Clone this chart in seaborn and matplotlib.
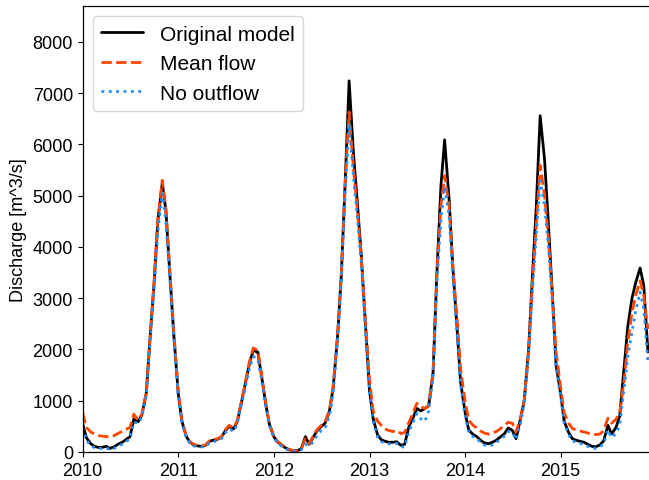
import matplotlib
matplotlib.use('Agg')
import matplotlib.pyplot as plt
import matplotlib.dates as mdates
import numpy as np
import pandas as pd
import seaborn as sns

# semi-monthly samples (1st and 15th), 2010-01-01 .. 2015-12-01
dates = pd.date_range('2010-01-01', '2015-12-01', freq='SMS')

original_model = [
    550, 280, 160, 110, 90, 90, 110, 70, 100, 150, 190, 240, 300, 640, 590, 720, 1150, 2200, 3300, 4500, 5250, 4700, 3400, 2300,
    1150, 600, 300, 190, 140, 120, 110, 130, 210, 230, 250, 290, 420, 500, 450, 600, 1000, 1350, 1750, 1980, 1950, 1500, 950, 550,
    300, 200, 130, 80, 40, 30, 30, 60, 300, 150, 300, 420, 500, 560, 800, 1250, 2260, 3430, 5390, 7240, 5800, 4900, 3800, 2600,
    1200, 650, 330, 240, 210, 190, 190, 200, 130, 150, 500, 650, 850, 800, 850, 900, 1560, 3440, 5200, 6090, 4940, 3640, 2460, 1370,
    780, 430, 340, 300, 230, 180, 160, 190, 230, 290, 360, 470, 420, 260, 650, 1000, 2000, 3380, 4870, 6560, 5700, 4500, 3050, 1700,
    1150, 600, 380, 260, 230, 210, 190, 150, 110, 100, 140, 220, 520, 350, 480, 700, 1650, 2450, 3000, 3300, 3590, 3250, 1950,
]
mean_flow = [
    760, 480, 390, 350, 320, 310, 300, 300, 320, 360, 400, 440, 480, 740, 620, 740, 1150, 2200, 3350, 4550, 5300, 4750, 3450, 2350,
    1200, 620, 310, 200, 150, 130, 120, 140, 220, 240, 260, 300, 440, 520, 470, 620, 1020, 1370, 1780, 2030, 1980, 1520, 970, 560,
    310, 210, 140, 90, 50, 30, 30, 60, 260, 160, 320, 440, 520, 580, 820, 1280, 2280, 3450, 5350, 6630, 5500, 4750, 3750, 2700,
    1400, 800, 600, 520, 450, 420, 400, 420, 360, 380, 580, 750, 950, 880, 850, 900, 1560, 3440, 4810, 5390, 4810, 3640, 2650, 1620,
    1000, 620, 520, 470, 410, 370, 350, 370, 400, 450, 520, 580, 560, 390, 660, 1000, 1950, 3250, 4500, 5590, 5000, 4200, 3000, 1950,
    1280, 760, 560, 460, 430, 410, 390, 370, 350, 340, 350, 420, 660, 560, 640, 760, 1400, 2150, 2720, 3050, 3340, 3060, 2400,
]
no_outflow = [
    480, 230, 120, 85, 70, 70, 80, 50, 70, 110, 150, 200, 260, 580, 560, 680, 1100, 2100, 3200, 4300, 5050, 4500, 3300, 2250,
    1100, 570, 280, 170, 120, 100, 100, 110, 180, 200, 220, 260, 380, 450, 400, 560, 960, 1280, 1650, 1860, 1820, 1430, 900, 520,
    280, 180, 110, 60, 30, 20, 20, 40, 150, 120, 200, 330, 420, 460, 700, 1150, 2150, 3300, 5150, 6400, 5350, 4600, 3650, 2500,
    1150, 600, 290, 200, 180, 160, 160, 170, 100, 100, 400, 560, 750, 650, 600, 800, 1450, 3250, 4550, 5170, 4620, 3450, 2350, 1300,
    720, 380, 300, 260, 190, 140, 110, 140, 190, 240, 310, 400, 380, 240, 560, 950, 1900, 3100, 4300, 5290, 4800, 4050, 2900, 1650,
    1100, 560, 340, 220, 190, 170, 150, 110, 80, 70, 100, 160, 430, 280, 360, 520, 1250, 1850, 2350, 2750, 3120, 2800, 1750,
]

sns.set_style('ticks')
plt.rcParams['font.family'] = ['Liberation Sans', 'DejaVu Sans']
plt.rcParams['text.color'] = 'black'
plt.rcParams['axes.labelcolor'] = 'black'
plt.rcParams['xtick.color'] = 'black'
plt.rcParams['ytick.color'] = 'black'
plt.rcParams['axes.edgecolor'] = 'black'

fig = plt.figure(figsize=(6.49, 4.81), dpi=100)
ax = fig.add_axes([82.7 / 649, 28 / 481, 1 - 82.7 / 649, 446 / 481])

sns.lineplot(x=dates, y=original_model, ax=ax, color='black', lw=2, label='Original model')
sns.lineplot(x=dates, y=mean_flow, ax=ax, color='orangered', lw=2, linestyle='--', label='Mean flow')
sns.lineplot(x=dates, y=no_outflow, ax=ax, color='dodgerblue', lw=2, linestyle=':', label='No outflow')

ax.set_xlim(pd.Timestamp('2010-01-01'), pd.Timestamp('2015-12-05'))
ax.set_ylim(0, 8700)
ax.set_yticks(np.arange(0, 8001, 1000))
ax.xaxis.set_major_locator(mdates.YearLocator())
ax.xaxis.set_major_formatter(mdates.DateFormatter('%Y'))
ax.tick_params(labelsize=13, length=3.5, width=0.8)
ax.set_ylabel('Discharge [m^3/s]', fontsize=13)
ax.set_xlabel('')
ax.spines['right'].set_visible(False)
for s in ['left', 'bottom', 'top']:
    ax.spines[s].set_linewidth(0.9)

ax.legend(loc='upper left', fontsize=15, handlelength=2.0, frameon=True)

fig.savefig('out.png', dpi=100)
